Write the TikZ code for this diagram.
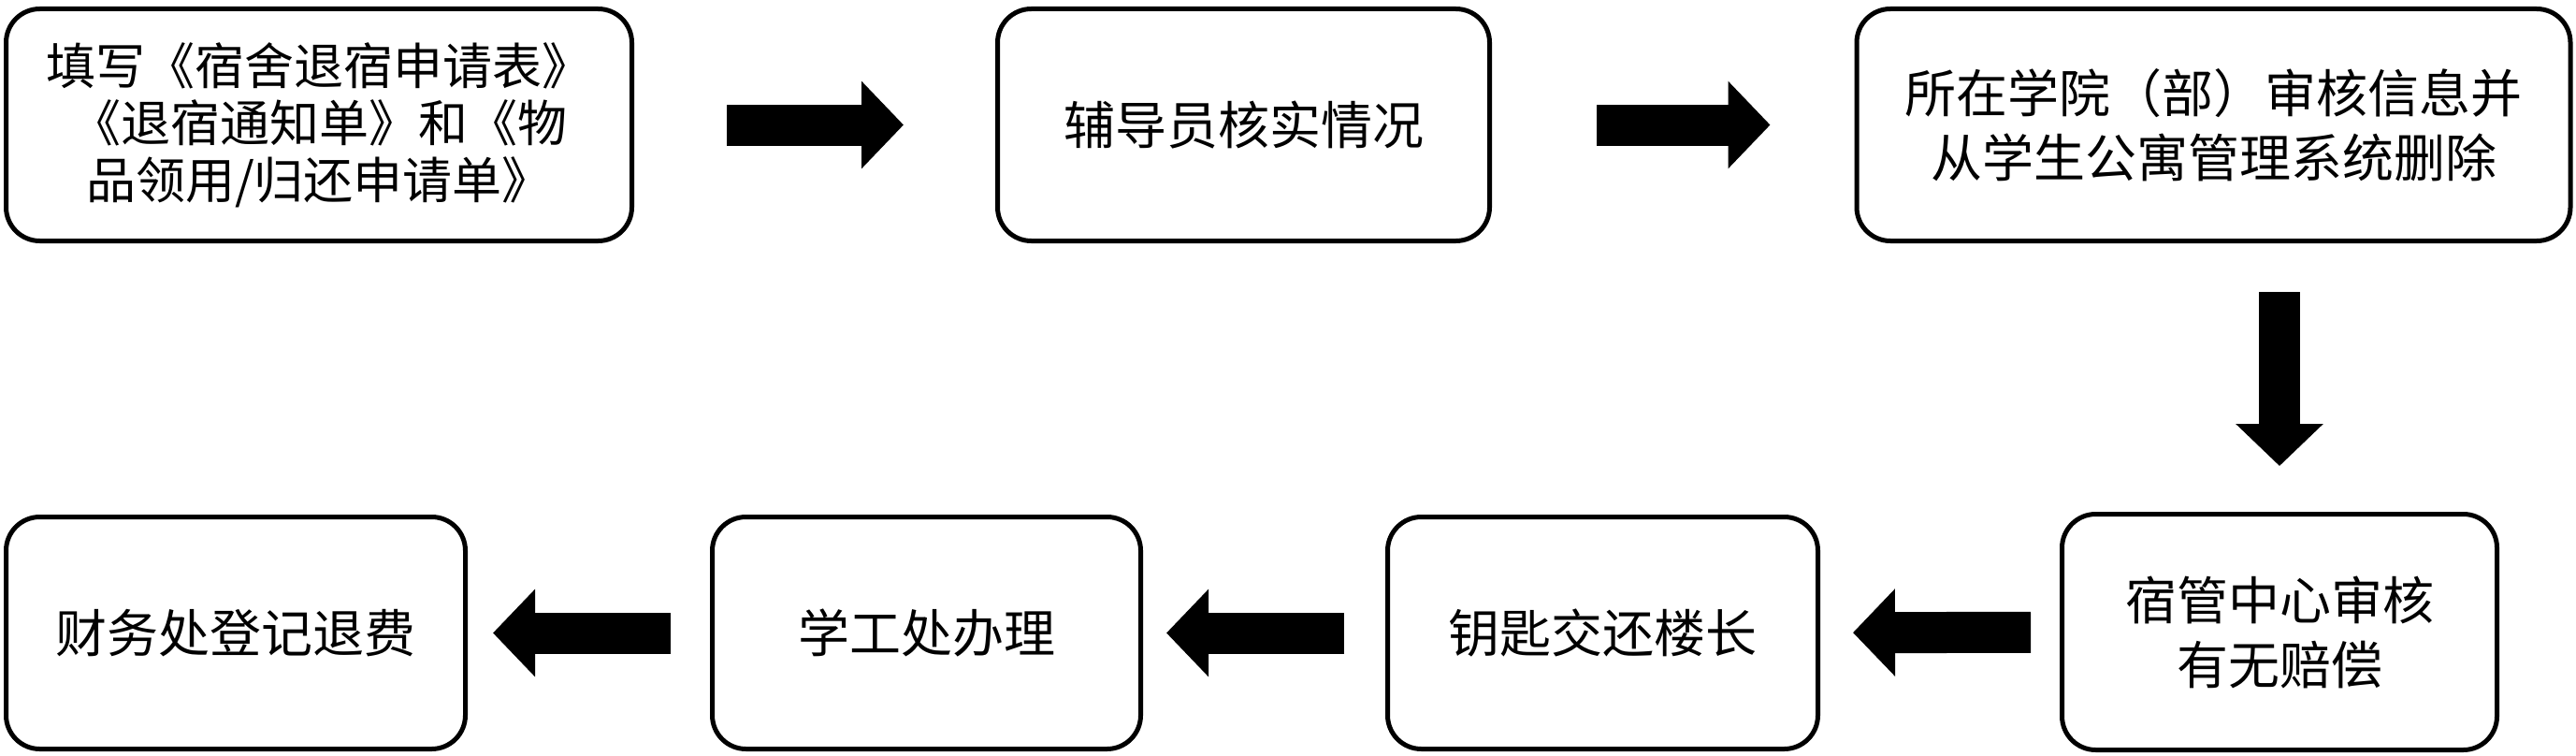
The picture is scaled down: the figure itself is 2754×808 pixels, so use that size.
\documentclass[tikz,border=0pt]{standalone}
\usepackage{fontspec}
\usepackage{tikz}
\usetikzlibrary{arrows.meta}
\newfontfamily\cjk{Noto Sans CJK SC}

\begin{document}
\begin{tikzpicture}[x=1pt, y=-1pt,
		stepbox/.style={draw, rectangle, rounded corners=36pt, line width=5pt, align=center, font=\cjk\fontsize{55}{69}\selectfont, inner sep=0pt},
		fatarrow/.style={line width=44pt, -{Triangle[length=45pt, width=91pt]}}]
				\useasboundingbox (0,0) rectangle (2754,808);
				\node[stepbox, minimum width=669pt, minimum height=248pt, font=\cjk\fontsize{53}{61}\selectfont] (A)at(341, 133.5) {填写《宿舍退宿申请表》\\《退宿通知单》和《物\\品领用/归还申请单》};
				\node[stepbox, minimum width=526pt, minimum height=248pt] (B)at(1329.5, 133.5) {辅导员核实情况};
				\node[stepbox, minimum width=763pt, minimum height=248pt] (C)at(2366.5, 133.5) {所在学院（部）审核信息并\\从学生公寓管理系统删除};
				\node[stepbox, minimum width=465pt, minimum height=252pt] (D)at(2437, 675.5) {宿管中心审核\\有无赔偿};
				\node[stepbox, minimum width=460pt, minimum height=248pt] (E)at(1713.5, 676.5) {钥匙交还楼长};
				\node[stepbox, minimum width=458pt, minimum height=248pt] (F)at(990.5, 676.5) {学工处办理};
				\node[stepbox, minimum width=491pt, minimum height=248pt] (G)at(252, 676.5) {财务处登记退费};
				\draw[fatarrow, shorten <=99pt, shorten >=98pt] (A) -- (B);
				\draw[fatarrow, shorten <=112pt, shorten >=90pt] (B) -- (C);
				\draw[fatarrow, shorten <=52pt, shorten >=49pt] (C.south -| D.north) -- (D.north);
				\draw[fatarrow, shorten <=31pt, shorten >=35pt] (D) -- (E);
				\draw[fatarrow, shorten <=44pt, shorten >=25pt] (E) -- (F);
				\draw[fatarrow, shorten <=42pt, shorten >=27pt] (F) -- (G);
			\end{tikzpicture}
\end{document}
